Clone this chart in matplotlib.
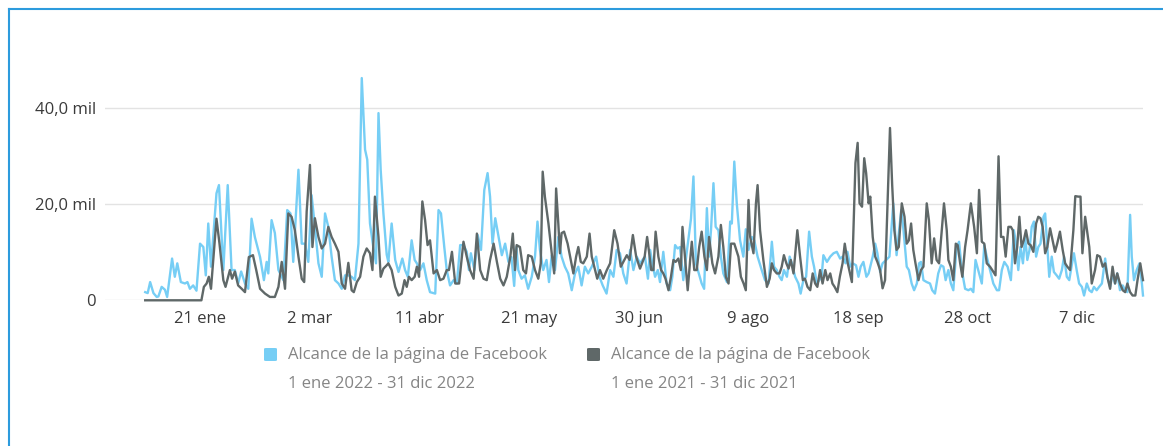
import matplotlib
matplotlib.use("Agg")
import matplotlib.pyplot as plt
from matplotlib.lines import Line2D
from matplotlib.patches import FancyBboxPatch

# ---------------- data (reach in thousands, x = day of year, 0 = 1 Jan) -------------
reach_2022 = [
    (0.0, 1.7), (0.9, 1.5), (1.8, 3.8), (3.0, 1.5), (4.2, 0.7), (4.8, 0.8), (6.0, 2.8), (7.2, 2.2),
    (8.0, 0.7), (9.8, 8.7), (10.8, 4.9), (11.7, 7.7), (13.0, 3.8), (14.5, 3.5), (15.4, 3.8), (16.3, 2.4),
    (17.5, 3.1), (18.7, 2.0), (20.0, 11.8), (21.2, 11.1), (22.1, 5.2), (23.0, 16.0), (24.0, 7.0),
    (26.0, 22.3), (26.9, 24.0), (28.5, 6.3), (30.1, 24.0), (31.5, 6.3), (32.7, 6.3), (33.9, 3.5),
    (35.0, 6.0), (36.4, 3.5), (37.6, 2.4), (38.8, 17.0), (40.0, 13.2), (41.9, 9.0), (43.3, 4.2),
    (44.3, 8.0), (44.9, 5.6), (46.1, 16.7), (47.3, 14.0), (48.6, 6.3), (50.4, 4.2), (51.8, 18.8),
    (53.0, 18.1), (54.0, 8.0), (55.9, 27.2), (57.1, 11.8), (58.3, 11.8), (59.5, 8.0), (60.7, 21.9),
    (61.9, 15.3), (63.2, 7.7), (64.4, 4.9), (65.6, 18.1), (66.8, 15.3), (68.0, 9.1), (69.2, 4.2),
    (70.5, 3.5), (71.7, 2.4), (72.9, 5.2), (74.1, 5.2), (75.3, 4.9), (76.5, 4.2), (77.8, 11.8),
    (79.0, 46.3), (80.2, 31.4), (81.0, 29.3), (82.0, 16.0), (83.2, 11.1), (84.2, 7.7), (85.1, 39.0),
    (85.9, 27.2), (86.9, 18.1), (88.1, 9.5), (88.7, 8.0), (89.9, 16.0), (91.2, 8.4), (92.4, 5.9),
    (93.8, 8.7), (94.8, 6.3), (95.8, 4.9), (97.2, 12.5), (98.3, 8.4), (99.1, 7.7), (100.3, 6.3),
    (101.5, 7.7), (102.7, 4.2), (103.9, 1.7), (105.8, 1.4), (107.0, 18.8), (107.9, 18.1), (109.1, 11.1),
    (110.0, 6.3), (111.2, 3.1), (112.5, 4.2), (113.7, 3.5), (114.9, 11.5), (116.1, 11.5), (117.3, 10.1),
    (118.1, 6.3), (118.8, 9.8), (120.1, 6.3), (121.3, 13.6), (122.5, 10.5), (123.7, 23.0), (124.9, 26.5),
    (125.8, 21.6), (126.7, 11.8), (127.7, 17.1), (128.9, 13.2), (130.1, 9.4), (131.3, 11.8), (132.5, 8.0),
    (133.6, 9.0), (134.6, 3.0), (135.4, 11.1), (136.1, 6.3), (137.3, 4.5), (138.5, 5.2), (139.7, 2.4),
    (141.0, 4.9), (142.2, 9.1), (143.1, 16.4), (144.0, 10.5), (145.2, 6.3), (146.4, 8.4), (147.3, 3.8),
    (148.3, 9.4), (149.5, 6.3), (150.7, 13.2), (151.9, 9.1), (153.1, 7.0), (154.3, 5.6), (155.6, 2.1),
    (156.8, 5.6), (158.0, 7.0), (159.2, 3.1), (160.4, 7.0), (161.6, 5.6), (162.9, 7.0), (164.5, 9.1),
    (165.7, 4.9), (166.9, 3.1), (168.3, 1.4), (169.6, 6.3), (170.8, 4.9), (172.0, 10.5), (173.2, 9.8),
    (174.4, 5.6), (175.6, 3.5), (176.9, 10.5), (178.1, 6.3), (179.3, 9.1), (180.5, 7.7), (182.3, 9.1),
    (183.4, 4.5), (184.2, 10.5), (185.0, 7.7), (186.0, 4.9), (187.0, 6.3), (187.8, 3.8), (189.0, 10.1),
    (190.2, 3.5), (191.5, 2.1), (192.3, 4.9), (193.3, 11.5), (194.2, 10.8), (195.1, 11.1), (196.3, 4.2),
    (197.2, 8.4), (199.1, 17.0), (200.0, 25.8), (200.9, 7.7), (201.8, 5.9), (203.0, 3.5), (203.9, 2.4),
    (204.9, 19.2), (205.7, 9.1), (206.4, 14.6), (207.3, 24.4), (208.1, 15.3), (209.1, 14.6), (210.0, 9.1),
    (210.9, 5.6), (212.2, 3.8), (213.4, 16.4), (214.0, 16.0), (214.9, 28.9), (215.8, 20.2), (217.0, 12.5),
    (218.2, 9.1), (219.1, 14.8), (220.1, 10.5), (221.3, 13.2), (222.2, 12.5), (223.4, 9.1), (224.9, 6.3),
    (226.1, 4.2), (227.4, 3.5), (228.6, 12.2), (229.4, 7.0), (230.4, 6.3), (231.4, 4.9), (232.2, 4.2),
    (233.0, 6.3), (234.1, 4.9), (235.1, 9.1), (235.9, 7.7), (237.1, 4.9), (238.3, 3.5), (239.1, 1.4),
    (240.1, 4.2), (241.1, 4.9), (242.2, 14.3), (243.2, 9.1), (244.0, 7.0), (245.0, 3.5), (245.9, 4.2),
    (246.8, 5.2), (247.4, 9.4), (248.7, 8.0), (249.9, 9.1), (251.1, 9.8), (252.3, 10.1), (253.5, 8.7),
    (254.4, 9.1), (255.5, 7.7), (256.2, 10.1), (257.2, 7.0), (258.1, 7.7), (259.3, 7.3), (260.2, 4.9),
    (261.0, 7.0), (262.0, 8.0), (263.1, 4.9), (263.9, 5.6), (265.4, 9.1), (266.3, 11.8), (267.1, 9.8),
    (268.1, 5.9), (269.0, 7.7), (270.3, 8.4), (271.5, 9.1), (272.9, 20.2), (274.1, 9.4), (275.8, 18.8),
    (276.6, 14.8), (277.8, 7.0), (278.6, 6.3), (279.6, 3.5), (280.5, 2.1), (281.5, 3.5), (282.3, 7.7),
    (283.0, 8.0), (283.9, 4.2), (285.1, 3.8), (286.3, 3.5), (287.1, 2.1), (288.1, 1.4), (289.3, 5.6),
    (290.3, 7.3), (291.2, 7.0), (292.0, 4.2), (293.0, 6.3), (293.9, 3.5), (294.8, 2.1), (296.0, 11.1),
    (296.9, 12.2), (297.9, 6.3), (299.1, 2.4), (300.3, 2.1), (301.2, 2.4), (302.1, 1.7), (302.9, 8.4),
    (303.9, 6.3), (305.2, 3.5), (306.1, 11.5), (307.0, 9.1), (308.2, 6.3), (309.4, 3.5), (310.7, 2.1),
    (311.5, 2.1), (312.5, 6.3), (313.4, 8.0), (314.6, 7.0), (315.8, 4.2), (316.9, 14.6), (317.7, 11.8),
    (318.5, 6.3), (319.3, 11.1), (320.2, 7.7), (321.0, 13.2), (321.8, 8.4), (322.6, 10.5), (323.4, 15.3),
    (324.2, 16.4), (325.0, 9.1), (325.8, 11.1), (326.6, 11.8), (327.7, 17.4), (328.3, 18.1), (329.1, 11.1),
    (329.8, 4.9), (330.7, 9.1), (331.5, 5.9), (332.5, 5.2), (333.4, 4.5), (334.4, 6.3), (335.2, 9.1),
    (336.2, 4.9), (337.1, 4.2), (338.0, 7.3), (338.8, 9.8), (339.8, 6.3), (340.7, 3.5), (341.7, 2.8),
    (342.5, 1.0), (343.5, 3.5), (344.4, 2.1), (345.3, 1.7), (346.1, 2.8), (347.1, 2.1), (348.0, 2.8),
    (349.0, 3.5), (350.2, 8.7), (351.0, 4.9), (352.0, 2.8), (352.9, 5.6), (353.8, 3.5), (354.6, 5.6),
    (355.6, 2.1), (356.6, 3.1), (357.5, 2.1), (358.3, 1.7), (359.3, 17.8), (359.9, 9.1), (360.7, 4.2),
    (361.7, 6.3), (362.7, 7.7), (363.6, 3.5), (364.0, 1.0),
]

reach_2021 = [
    (0.0, 0.0), (20.5, 0.0), (21.4, 2.8), (22.4, 3.5), (23.2, 4.9), (24.0, 2.4), (26.0, 17.0), (27.1, 11.8),
    (28.5, 4.2), (29.3, 2.8), (30.9, 6.3), (31.7, 4.5), (32.7, 6.0), (33.9, 3.1), (35.2, 2.4), (36.4, 1.7),
    (37.8, 9.0), (39.3, 9.4), (40.5, 6.3), (41.9, 2.4), (43.7, 1.4), (45.5, 0.7), (47.3, 0.7), (48.6, 2.8),
    (49.8, 8.0), (51.0, 2.4), (52.2, 18.1), (53.4, 17.4), (54.6, 14.6), (55.9, 9.1), (57.1, 4.5), (58.0, 3.8),
    (58.9, 18.5), (60.1, 28.2), (61.0, 11.1), (61.9, 17.1), (63.2, 13.2), (64.4, 10.8), (65.6, 11.8),
    (66.8, 15.3), (68.0, 13.2), (69.2, 11.8), (70.5, 10.1), (71.7, 3.5), (72.9, 2.4), (74.1, 7.8), (75.3, 2.1),
    (76.1, 1.7), (77.2, 3.8), (78.4, 4.9), (79.6, 9.1), (80.8, 10.8), (82.0, 9.8), (82.9, 6.3), (83.8, 21.6),
    (85.1, 13.2), (85.9, 4.9), (86.9, 6.6), (88.1, 7.3), (88.7, 7.7), (89.9, 6.3), (91.2, 2.8), (92.4, 1.0),
    (93.6, 1.4), (94.6, 4.2), (95.4, 2.8), (96.2, 4.9), (97.2, 4.2), (98.3, 4.9), (99.1, 7.0), (99.9, 4.9),
    (101.1, 20.6), (102.1, 16.7), (103.0, 11.5), (103.9, 12.5), (105.2, 5.6), (106.4, 6.3), (107.6, 4.2),
    (108.8, 4.5), (110.0, 6.3), (110.8, 6.3), (111.9, 10.1), (113.1, 3.5), (114.5, 3.5), (116.1, 12.2),
    (117.3, 9.1), (118.5, 6.3), (119.8, 4.5), (121.0, 13.9), (122.2, 6.3), (123.4, 4.5), (124.6, 4.2),
    (125.8, 8.4), (127.1, 11.8), (128.3, 8.0), (129.5, 4.5), (130.7, 3.1), (131.9, 4.9), (133.2, 9.1),
    (134.1, 13.9), (134.9, 6.3), (135.5, 11.5), (136.7, 11.1), (137.9, 6.3), (138.9, 5.6), (139.7, 9.4),
    (141.0, 9.1), (142.2, 6.3), (143.4, 4.5), (144.3, 7.7), (145.0, 26.8), (145.8, 21.6), (147.1, 16.0),
    (148.3, 9.8), (149.2, 5.6), (149.9, 23.3), (150.7, 16.0), (151.3, 9.8), (151.9, 14.0), (152.8, 14.3),
    (154.1, 11.8), (155.0, 9.1), (156.2, 5.6), (157.2, 9.1), (158.0, 11.1), (158.9, 8.0), (159.8, 7.7),
    (161.1, 9.1), (162.1, 13.9), (162.9, 9.1), (164.1, 6.3), (164.9, 4.5), (165.9, 6.3), (167.1, 4.5),
    (168.4, 6.3), (169.6, 7.7), (171.1, 14.6), (172.3, 11.8), (173.5, 7.0), (174.4, 8.0), (175.7, 9.4),
    (176.7, 8.4), (177.9, 13.6), (179.1, 9.1), (180.5, 6.6), (182.2, 9.1), (183.1, 13.2), (183.8, 10.1),
    (184.6, 6.3), (185.4, 6.3), (186.2, 14.3), (187.2, 9.1), (188.2, 6.3), (189.0, 5.6), (189.8, 4.5),
    (190.9, 2.1), (191.8, 4.9), (192.7, 8.4), (193.5, 8.0), (194.5, 8.7), (195.4, 6.3), (196.0, 15.3),
    (196.9, 9.1), (197.9, 2.1), (198.8, 8.4), (199.4, 12.2), (200.3, 6.3), (201.2, 6.3), (202.1, 11.1),
    (203.0, 14.3), (204.0, 9.1), (204.9, 6.3), (205.7, 13.2), (206.9, 7.7), (207.9, 5.6), (209.1, 9.1),
    (210.0, 15.7), (210.9, 11.1), (211.8, 4.9), (212.8, 3.5), (213.7, 11.8), (214.9, 11.8), (216.4, 9.1),
    (217.3, 4.9), (218.3, 3.5), (219.1, 2.1), (220.1, 20.9), (220.7, 13.2), (221.9, 9.8), (222.8, 20.2),
    (223.4, 24.0), (224.3, 14.6), (225.5, 8.4), (226.8, 2.8), (227.8, 4.5), (228.6, 7.7), (229.4, 6.3),
    (230.4, 5.6), (231.4, 5.6), (232.2, 7.0), (233.0, 9.4), (233.9, 7.7), (234.7, 6.6), (235.5, 8.4),
    (236.5, 5.6), (237.9, 14.6), (238.9, 9.1), (239.9, 4.2), (240.7, 4.5), (241.6, 2.8), (242.6, 2.1),
    (243.5, 5.6), (244.4, 3.5), (245.2, 2.8), (246.2, 6.3), (247.1, 3.5), (248.1, 6.3), (248.9, 4.2),
    (249.9, 5.6), (250.7, 3.5), (251.5, 2.8), (252.5, 1.7), (253.4, 4.9), (254.4, 7.7), (255.2, 11.8),
    (256.3, 7.7), (257.8, 3.8), (259.1, 28.6), (259.9, 32.8), (260.6, 20.2), (261.5, 19.5), (262.3, 29.6),
    (263.0, 26.5), (263.9, 20.2), (264.5, 21.6), (265.4, 13.2), (266.3, 9.1), (267.1, 8.0), (268.1, 6.3),
    (269.0, 2.5), (269.9, 4.2), (270.8, 20.0), (271.7, 35.9), (272.5, 24.0), (273.3, 14.6), (274.1, 10.5),
    (274.9, 11.1), (276.0, 20.2), (277.0, 17.4), (277.8, 11.8), (278.6, 12.5), (279.4, 16.0), (280.2, 10.5),
    (281.0, 7.7), (282.1, 4.2), (283.0, 6.3), (283.9, 7.0), (285.1, 20.2), (285.9, 16.7), (286.9, 7.7),
    (287.8, 12.9), (288.7, 8.4), (289.6, 7.7), (290.6, 14.6), (291.4, 20.2), (292.4, 14.6), (293.0, 8.4),
    (293.9, 7.0), (294.8, 4.2), (295.7, 11.8), (296.4, 11.5), (297.3, 7.7), (298.1, 4.9), (299.1, 11.1),
    (300.0, 14.6), (301.2, 20.2), (302.4, 15.3), (303.4, 9.8), (304.2, 23.0), (305.2, 12.2), (306.1, 11.8),
    (307.0, 7.7), (308.2, 7.0), (309.0, 6.3), (310.2, 5.2), (311.3, 30.0), (312.2, 13.2), (313.1, 13.2),
    (313.9, 9.1), (314.9, 15.3), (315.8, 15.3), (316.5, 14.6), (317.3, 7.7), (318.1, 11.1), (318.9, 17.4),
    (319.7, 11.1), (320.5, 12.5), (321.3, 14.6), (322.2, 11.8), (323.0, 11.5), (324.0, 10.1), (325.0, 16.0),
    (325.8, 17.4), (326.6, 17.1), (327.4, 15.3), (328.3, 9.8), (329.1, 11.1), (330.1, 15.0), (331.0, 12.5),
    (331.9, 10.1), (332.7, 11.8), (333.7, 14.3), (334.7, 10.5), (335.6, 7.7), (336.4, 7.0), (337.4, 6.3),
    (338.6, 14.6), (339.3, 21.7), (340.4, 21.6), (341.2, 21.6), (341.9, 9.8), (342.9, 17.4), (343.7, 14.0),
    (344.4, 11.1), (345.3, 3.5), (346.5, 6.3), (347.3, 9.4), (348.3, 9.1), (349.3, 7.0), (350.2, 7.7),
    (351.0, 4.9), (352.0, 2.4), (352.9, 7.0), (353.8, 3.5), (354.6, 5.6), (355.6, 3.5), (356.6, 2.1),
    (357.5, 1.7), (358.3, 3.5), (359.3, 1.7), (360.2, 1.0), (361.2, 1.0), (362.0, 4.2), (363.0, 7.7),
    (364.0, 4.2),
]

tick_days = [20, 60, 100, 140, 180, 220, 260, 300, 340]
tick_labels = ["21 ene", "2 mar", "11 abr", "21 may", "30 jun", "9 ago", "18 sep", "28 oct", "7 dic"]
ytick_vals = [0, 20, 40]
ytick_labels = ["0", "20,0 mil", "40,0 mil"]
series_name = "Alcance de la página de Facebook"
period_2022 = "1 ene 2022 - 31 dic 2022"
period_2021 = "1 ene 2021 - 31 dic 2021"

# ---------------- styling ----------------
BLUE = "#76CEF5"
GREY = "#5F6868"
FONT = ["Open Sans", "DejaVu Sans"]
plt.rcParams["font.family"] = FONT

W, H = 1163, 446
fig = plt.figure(figsize=(W / 100, H / 100), dpi=100)
fig.patch.set_facecolor("white")

def fx(px):
    return px / W

def fy(py):
    return 1 - py / H

ax_left, ax_right, ax_top, ax_zero = 105, 1143, 70, 300.3
ax = fig.add_axes([fx(ax_left), fy(ax_zero), fx(ax_right - ax_left), (ax_zero - ax_top) / H])
ax.set_xlim(-14.67, 364.0)
ax.set_ylim(0, (ax_zero - ax_top) / 4.8)

for v in ytick_vals:
    ax.axhline(v, color="#E3E3E3", lw=1.0, zorder=0)

d22 = [d for d, _ in reach_2022]
v22 = [v for _, v in reach_2022]
d21 = [d for d, _ in reach_2021]
v21 = [v for _, v in reach_2021]
ax.plot(d22, v22, color=BLUE, lw=1.7, solid_joinstyle="round", clip_on=False, zorder=2)
ax.plot(d21, v21, color=GREY, lw=1.7, solid_joinstyle="round", clip_on=False, zorder=3)

for s in ax.spines.values():
    s.set_visible(False)
ax.set_xticks(tick_days)
ax.set_xticklabels(tick_labels)
ax.set_yticks(ytick_vals)
ax.set_yticklabels(ytick_labels)
ax.tick_params(axis="both", length=0, labelsize=12, colors="#3a3a3a")
ax.tick_params(axis="x", pad=8)
ax.tick_params(axis="y", pad=6.5)
ax.set_facecolor("none")

# ---------------- legend ----------------
def legend_entry(x_sq, x_txt, color, period):
    sq = FancyBboxPatch((fx(x_sq), fy(361)), fx(13), 13 / H,
                        boxstyle="round,pad=0,rounding_size=0.002",
                        transform=fig.transFigure, facecolor=color, edgecolor="none")
    fig.add_artist(sq)
    fig.text(fx(x_txt), fy(355), series_name, fontsize=12, color="#858585",
             va="center", ha="left")
    fig.text(fx(x_txt), fy(384), period, fontsize=12, color="#858585",
             va="center", ha="left")

legend_entry(264, 288, BLUE, period_2022)
legend_entry(587, 611, GREY, period_2021)

# ---------------- frame ----------------
fig.add_artist(Line2D([fx(9), fx(9)], [0, fy(9)], color="#2D9BDD", lw=1.5))
fig.add_artist(Line2D([fx(9), 1], [fy(9), fy(9)], color="#2D9BDD", lw=1.5))

fig.savefig("out.png", dpi=100, facecolor="white")
